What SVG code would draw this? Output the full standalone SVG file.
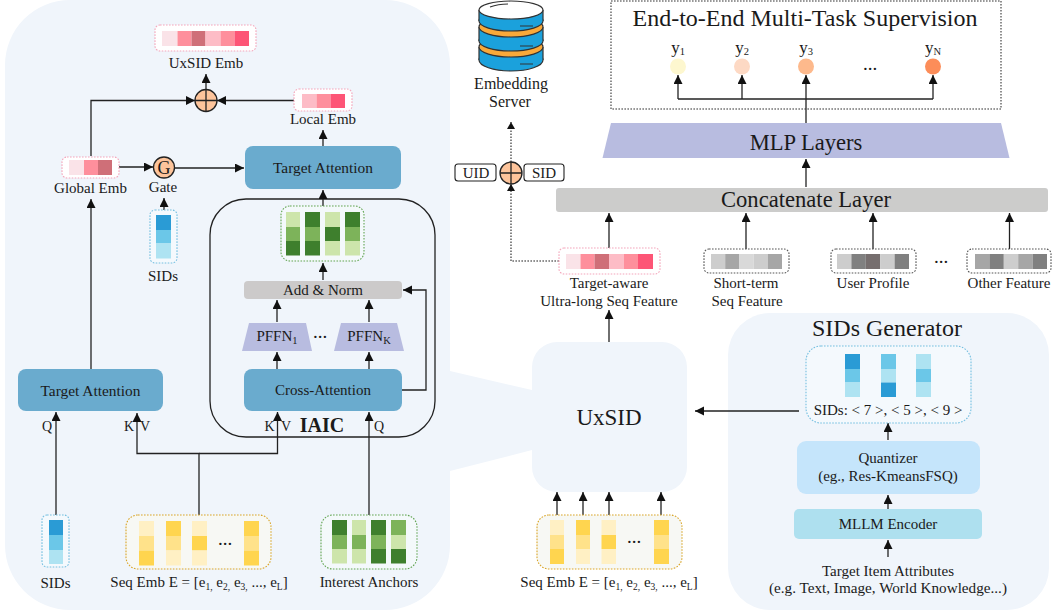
<svg xmlns="http://www.w3.org/2000/svg" width="1052" height="613" viewBox="0 0 1052 613">
<defs>
<marker id="ah" markerUnits="userSpaceOnUse" markerWidth="10" markerHeight="10" refX="9" refY="4.500" orient="auto"><path d="M0 0L9 4.500L0 9Z" fill="#111"/></marker>
</defs>
<style>
text{font-family:"Liberation Serif","Times New Roman",serif;fill:#1a1a1a;text-anchor:middle;font-size:15px}
.sub{font-size:10.500px}
.sm{font-size:9.500px}
.kv{font-size:14px}
.ta-t{font-size:15.400px}
.dots{font-size:19px}
.big{font-size:22.600px}
.ln{fill:none;stroke:#222;stroke-width:1.3}
.ar{fill:none;stroke:#222;stroke-width:1.3;marker-end:url(#ah)}
.dot{fill:none;stroke:#222;stroke-width:1.1;stroke-dasharray:1.6 1.4}
.dbox{stroke-width:1.1;stroke-dasharray:1.6 1.4;fill:#fff}
.pk{stroke:#f4a6bb}.bl{stroke:#74bfe0;fill:#f4f9fd}.gn{stroke:#62a552;fill:#f4f9fb}.gd{stroke:#d9a528;fill:#f7f8f4}.gy{stroke:#555;fill:#fff}
.panel{fill:#f0f5fb}
.ta{fill:#6aabce}
.trap{fill:#b8bce0}
.circ{fill:#fdc49b;stroke:#222;stroke-width:1.3}
.a{fill:#fae3e8}.b{fill:#fe8f9c}.c{fill:#cf6f78}.d{fill:#fdbcc6}.e{fill:#fd5576}
.s1{fill:#2a9bd5}.s2{fill:#6bc7e8}.s3{fill:#aee3f2}
.g1{fill:#3e7f2d}.g2{fill:#7db35a}.g3{fill:#cde5ab}
.y1{fill:#ffd54f}.y2{fill:#ffe28a}.y3{fill:#fff0c4}
.k1{fill:#cdcdcd}.k2{fill:#a6a6a6}.k3{fill:#d9d9d9}.k4{fill:#808080}.k5{fill:#766e6e}
</style>
<rect width="1052" height="613" fill="#fff"/>

<g id="panels">
<path class="panel" d="M70 0H385A65 65 0 0 1 450 65V371L532 390V367A25 25 0 0 1 557 342H662A25 25 0 0 1 687 367V467A25 25 0 0 1 662 492H557A25 25 0 0 1 532 467V450L450 471V545A65 65 0 0 1 385 610H70A65 65 0 0 1 5 545V65A65 65 0 0 1 70 0Z"/>
<rect class="panel" x="728" y="313" width="321" height="297" rx="42"/>
</g>

<g id="iaic-frame"><rect x="210" y="199" width="225" height="238" rx="36" fill="none" stroke="#222" stroke-width="1.3"/></g>

<g id="connectors">
<path class="ar" d="M206 90V74"/>
<path class="ar" d="M91 156V100.500H195"/>
<path class="ar" d="M294 100.500H217"/>
<path class="ar" d="M323 146V130"/>
<path class="ar" d="M119 167H153"/>
<path class="ar" d="M175 168H244"/>
<path class="ar" d="M164 211V198"/>
<path class="ar" d="M323 206V190"/>
<path class="ar" d="M323 280V263"/>
<path class="ar" d="M402 390H426V290H403"/>
<path class="ar" d="M277 322V300"/>
<path class="ar" d="M369 322V300"/>
<path class="ar" d="M277 369V352"/>
<path class="ar" d="M369 369V352"/>
<path class="ar" d="M91 369V199"/>
<path class="ar" d="M56 515V412"/>
<path class="ar" d="M199 515V453.500H137V413"/>
<path class="ar" d="M199 453.500H277.500V412"/>
<path class="ar" d="M369 515V412"/>
<path class="ar" d="M609 342V310"/>
<path class="ar" d="M557 515V492"/>
<path class="ar" d="M583 515V492"/>
<path class="ar" d="M609 515V492"/>
<path class="ar" d="M661 515V492"/>
<path class="ar" d="M799 411H695"/>
<path class="ar" d="M888 440V423"/>
<path class="ar" d="M888 509V495"/>
<path class="ar" d="M888 557V540"/>
<path class="ar" d="M609 249V213"/>
<path class="ar" d="M746 249V213"/>
<path class="ar" d="M873 249V213"/>
<path class="ar" d="M1009.500 249V213"/>
<path class="ar" d="M806 187V159"/>
<path class="ar" d="M806 123V75"/>
<path class="ar" d="M678 99V75"/>
<path class="ar" d="M742 99V75"/>
<path class="ar" d="M933 99V75"/>
<path class="ln" d="M678 99H933" stroke-width="1.6"/>
<path class="dot" d="M559 261H511V184"/>
<path d="M507 191L511 184L515 191Z" fill="#111"/>
<path class="dot" d="M511 162V122"/>
<path d="M507 129L511 122L515 129Z" fill="#111"/>
</g>

<g id="uxsid-emb">
<rect class="dbox pk" x="155" y="25" width="101" height="26" rx="5"/>
<rect class="a" x="162" y="31" width="15.500" height="15"/><rect class="b" x="177.500" y="31" width="14" height="15"/><rect class="c" x="191.500" y="31" width="14" height="15"/><rect class="d" x="205.500" y="31" width="15" height="15"/><rect class="b" x="220.500" y="31" width="14" height="15"/><rect class="e" x="234.500" y="31" width="14.500" height="15"/>
<text x="206" y="68">UxSID Emb</text>
</g>
<g id="plus-left"><circle class="circ" cx="206" cy="100.500" r="11"/><path class="ln" d="M195 100.500H217M206 89.500V111.500"/></g>
<g id="local-emb">
<rect class="dbox pk" x="294" y="89" width="58" height="22" rx="5"/>
<rect class="d" x="302" y="94" width="14.500" height="14"/><rect class="b" x="316.500" y="94" width="14" height="14"/><rect class="e" x="330.500" y="94" width="14.500" height="14"/>
<text x="323" y="124">Local Emb</text>
</g>
<g id="target-attn-top"><rect class="ta" x="245" y="146" width="156" height="43" rx="8"/><text class="ta-t" x="323" y="173">Target Attention</text></g>
<g id="global-emb">
<rect class="dbox pk" x="62" y="157" width="57" height="21" rx="5"/>
<rect class="a" x="69" y="160" width="15" height="15"/><rect class="b" x="84" y="160" width="14" height="15"/><rect class="c" x="98" y="160" width="14" height="15"/>
<text x="90.500" y="193">Global Emb</text>
</g>
<g id="gate"><circle class="circ" cx="164" cy="167.500" r="10.500"/><text x="164" y="174" style="font-size:18px">G</text><text x="163" y="192">Gate</text></g>
<g id="sids-gate">
<rect class="dbox bl" x="150" y="210" width="27" height="53" rx="5"/>
<rect class="s1" x="156" y="215" width="15" height="15"/><rect class="s2" x="156" y="230" width="15" height="13.500"/><rect class="s3" x="156" y="243.500" width="15" height="15"/>
<text x="163" y="281">SIDs</text>
</g>
<g id="green-output">
<rect class="dbox gn" x="281" y="206" width="83" height="55" rx="9"/>
<rect class="g3" x="286" y="212" width="14" height="15"/><rect class="g2" x="286" y="227" width="14" height="14"/><rect class="g1" x="286" y="241" width="14" height="14.500"/>
<rect class="g1" x="305" y="212" width="15" height="15"/><rect class="g2" x="305" y="227" width="15" height="14"/><rect class="g1" x="305" y="241" width="15" height="14.500"/>
<rect class="g3" x="325" y="212" width="15" height="15"/><rect class="g1" x="325" y="227" width="15" height="14"/><rect class="g3" x="325" y="241" width="15" height="14.500"/>
<rect class="g1" x="345" y="212" width="15" height="15"/><rect class="g2" x="345" y="227" width="15" height="14"/><rect class="g3" x="345" y="241" width="15" height="14.500"/>
</g>
<g id="add-norm"><rect x="244" y="281" width="158" height="18" rx="4" fill="#cccaca"/><text x="323" y="295">Add &amp; Norm</text></g>
<g id="pffn-1"><path class="trap" d="M249 323H306L312 351H242Z"/><text x="277" y="341">PFFN<tspan class="sub" dy="3">1</tspan></text></g>
<text class="dots" x="320" y="338">...</text>
<g id="pffn-k"><path class="trap" d="M341 323H397L404 351H334Z"/><text x="369" y="341">PFFN<tspan class="sub" dy="3">K</tspan></text></g>
<g id="cross-attn"><rect class="ta" x="244" y="369" width="158" height="42" rx="8"/><text x="323" y="395">Cross-Attention</text></g>
<g id="target-attn-left"><rect class="ta" x="18" y="369" width="145" height="42" rx="8"/><text class="ta-t" x="90.500" y="396">Target Attention</text></g>
<text x="322" y="432" style="font-size:20px;font-weight:bold">IAIC</text>
<text class="kv" x="47" y="431">Q</text><text class="kv" x="129" y="431">K</text><text class="kv" x="145" y="431">V</text>
<text class="kv" x="269.500" y="431">K</text><text class="kv" x="286" y="431">V</text><text class="kv" x="379" y="431">Q</text>

<g id="sids-left">
<rect class="dbox bl" x="42" y="515" width="27" height="52" rx="5"/>
<rect class="s1" x="49" y="520" width="14" height="15"/><rect class="s2" x="49" y="535" width="14" height="15"/><rect class="s3" x="49" y="550" width="14" height="14"/>
<text x="55.500" y="588">SIDs</text>
</g>
<g id="seq-left">
<rect class="dbox gd" x="126" y="515" width="145" height="54" rx="12"/>
<rect class="y3" x="139" y="521" width="15" height="15"/><rect class="y2" x="139" y="536" width="15" height="14.500"/><rect class="y1" x="139" y="550.500" width="15" height="15"/>
<rect class="y1" x="166" y="521" width="15" height="15"/><rect class="y2" x="166" y="536" width="15" height="14.500"/><rect class="y3" x="166" y="550.500" width="15" height="15"/>
<rect class="y3" x="192" y="521" width="15" height="15"/><rect class="y1" x="192" y="536" width="15" height="14.500"/><rect class="y3" x="192" y="550.500" width="15" height="15"/>
<rect class="y1" x="244" y="521" width="15" height="15"/><rect class="y2" x="244" y="536" width="15" height="14.500"/><rect class="y1" x="244" y="550.500" width="15" height="15"/>
<text class="dots" x="225" y="545">...</text>
<text x="199" y="587">Seq Emb E = [e<tspan class="sm" dy="3">1,</tspan><tspan dy="-3"> e</tspan><tspan class="sm" dy="3">2,</tspan><tspan dy="-3"> e</tspan><tspan class="sm" dy="3">3,</tspan><tspan dy="-3"> ..., e</tspan><tspan class="sm" dy="3">L</tspan><tspan dy="-3">]</tspan></text>
</g>
<g id="anchors">
<rect class="dbox gn" x="321" y="515" width="96" height="54" rx="12"/>
<rect class="g1" x="332" y="520" width="15" height="15"/><rect class="g2" x="332" y="535" width="15" height="14"/><rect class="g3" x="332" y="549" width="15" height="14.500"/>
<rect class="g3" x="352" y="520" width="14" height="15"/><rect class="g2" x="352" y="535" width="14" height="14"/><rect class="g3" x="352" y="549" width="14" height="14.500"/>
<rect class="g1" x="371" y="520" width="15" height="15"/><rect class="g2" x="371" y="535" width="15" height="14"/><rect class="g1" x="371" y="549" width="15" height="14.500"/>
<rect class="g2" x="391" y="520" width="15" height="15"/><rect class="g3" x="391" y="535" width="15" height="14"/><rect class="g1" x="391" y="549" width="15" height="14.500"/>
<text x="369" y="587">Interest Anchors</text>
</g>

<g id="server">
<ellipse cx="511" cy="60" rx="32" ry="11" fill="#1ba1dc" stroke="#333" stroke-width="1.2"/>
<rect x="479" y="47" width="64" height="13" fill="#1ba1dc"/>
<path d="M479 47V60M543 47V60" stroke="#333" stroke-width="1.2"/>
<ellipse cx="511" cy="47" rx="32" ry="10" fill="#f9a93a" stroke="#333" stroke-width="1.2"/>
<ellipse cx="511" cy="41" rx="32" ry="10" fill="#1ba1dc" stroke="#333" stroke-width="1.2"/>
<rect x="479" y="27" width="64" height="14" fill="#1ba1dc"/>
<path d="M479 27V41M543 27V41" stroke="#333" stroke-width="1.2"/>
<ellipse cx="511" cy="27" rx="32" ry="10" fill="#f9a93a" stroke="#333" stroke-width="1.2"/>
<ellipse cx="511" cy="21" rx="32" ry="10" fill="#1ba1dc" stroke="#333" stroke-width="1.2"/>
<rect x="479" y="10" width="64" height="11" fill="#1ba1dc"/>
<path d="M479 10V21M543 10V21" stroke="#333" stroke-width="1.2"/>
<ellipse cx="511" cy="10" rx="32" ry="9" fill="#fff" stroke="#333" stroke-width="1.2"/>
<path d="M490 7Q498 4 508 4M520 26H533M520 46H533M520 64H533" stroke="#333" stroke-width="1.2" fill="none"/>
<text x="511" y="89" style="font-size:16px">Embedding</text>
<text x="510" y="107" style="font-size:16px">Server</text>
</g>
<g id="uid"><rect x="455" y="164" width="41" height="17" rx="3" fill="#fff" stroke="#222" stroke-width="1.1"/><text x="476" y="177.500">UID</text></g>
<g id="plus-right"><circle class="circ" cx="511" cy="173" r="11"/><path class="ln" d="M500 173H522M511 162V184"/></g>
<g id="sid"><rect x="524" y="164" width="40" height="17" rx="3" fill="#fff" stroke="#222" stroke-width="1.1"/><text x="544" y="177.500">SID</text></g>

<g id="supervision">
<rect x="611" y="1" width="390" height="108" fill="none" stroke="#333" stroke-width="1.1" stroke-dasharray="1.6 1.4"/>
<text x="805" y="26" style="font-size:24px">End-to-End Multi-Task Supervision</text>
<text x="678" y="53" style="font-size:17px">y<tspan class="sub" dy="2">1</tspan></text>
<text x="742" y="53" style="font-size:17px">y<tspan class="sub" dy="2">2</tspan></text>
<text x="806" y="53" style="font-size:17px">y<tspan class="sub" dy="2">3</tspan></text>
<text x="933" y="53" style="font-size:17px">y<tspan class="sub" dy="2">N</tspan></text>
<circle cx="678" cy="66.500" r="8" fill="#fdf7cf"/><circle cx="742" cy="66.500" r="8" fill="#fdd9c4"/><circle cx="806" cy="66.500" r="8" fill="#fdb98c"/><circle cx="933" cy="66.500" r="8" fill="#fc8d59"/>
<text class="dots" x="870" y="70">...</text>
</g>
<g id="mlp"><path class="trap" d="M611 123H1001L1009.500 158H602.500Z"/><text class="big" x="806" y="150">MLP Layers</text></g>
<g id="concat"><rect x="556" y="188" width="492" height="24" rx="3" fill="#cccccb"/><text class="big" x="806" y="207">Concatenate Layer</text></g>

<g id="feat-target">
<rect class="dbox pk" x="559" y="248" width="101" height="26" rx="5"/>
<rect class="a" x="566" y="254" width="14.500" height="15"/><rect class="b" x="580.500" y="254" width="14" height="15"/><rect class="c" x="594.500" y="254" width="14.500" height="15"/><rect class="d" x="609" y="254" width="15" height="15"/><rect class="b" x="624" y="254" width="14" height="15"/><rect class="e" x="638" y="254" width="15" height="15"/>
<text x="609" y="288">Target-aware</text><text x="609" y="306">Ultra-long Seq Feature</text>
</g>
<g id="feat-short">
<rect class="dbox gy" x="704" y="249" width="85" height="24" rx="5"/>
<rect class="k1" x="711" y="254" width="14.200" height="15"/><rect class="k2" x="725.200" y="254" width="14.200" height="15"/><rect class="k3" x="739.400" y="254" width="14.200" height="15"/><rect class="k1" x="753.600" y="254" width="14.200" height="15"/><rect class="k2" x="767.800" y="254" width="14.200" height="15"/>
<text x="746" y="288">Short-term</text><text x="747" y="306">Seq Feature</text>
</g>
<g id="feat-user">
<rect class="dbox gy" x="831" y="249" width="85" height="24" rx="5"/>
<rect class="k1" x="837" y="254" width="14.400" height="15"/><rect class="k4" x="851.400" y="254" width="14.400" height="15"/><rect class="k5" x="865.800" y="254" width="14.400" height="15"/><rect class="k1" x="880.200" y="254" width="14.400" height="15"/><rect class="k4" x="894.600" y="254" width="14.400" height="15"/>
<text x="873" y="288">User Profile</text>
</g>
<text class="dots" x="941" y="263">...</text>
<g id="feat-other">
<rect class="dbox gy" x="967" y="249" width="84" height="24" rx="5"/>
<rect class="k2" x="975" y="254" width="14.400" height="15"/><rect class="k4" x="989.400" y="254" width="14.400" height="15"/><rect class="k1" x="1003.800" y="254" width="14.400" height="15"/><rect class="k2" x="1018.200" y="254" width="14.400" height="15"/><rect class="k4" x="1032.600" y="254" width="14.400" height="15"/>
<text x="1009" y="288">Other Feature</text>
</g>

<g id="uxsid"><text x="609" y="425" style="font-size:23px">UxSID</text></g>
<g id="seq-right">
<rect class="dbox gd" x="537" y="515" width="145" height="54" rx="12"/>
<rect class="y3" x="550" y="520" width="14" height="15"/><rect class="y2" x="550" y="535" width="14" height="14"/><rect class="y1" x="550" y="549" width="14" height="15"/>
<rect class="y1" x="576" y="520" width="14" height="15"/><rect class="y2" x="576" y="535" width="14" height="14"/><rect class="y3" x="576" y="549" width="14" height="15"/>
<rect class="y3" x="601.500" y="520" width="14.500" height="15"/><rect class="y1" x="601.500" y="535" width="14.500" height="14"/><rect class="y3" x="601.500" y="549" width="14.500" height="15"/>
<rect class="y1" x="654" y="520" width="15" height="15"/><rect class="y2" x="654" y="535" width="15" height="14"/><rect class="y1" x="654" y="549" width="15" height="15"/>
<text class="dots" x="634" y="543">...</text>
<text x="609" y="587">Seq Emb E = [e<tspan class="sm" dy="3">1,</tspan><tspan dy="-3"> e</tspan><tspan class="sm" dy="3">2,</tspan><tspan dy="-3"> e</tspan><tspan class="sm" dy="3">3,</tspan><tspan dy="-3"> ..., e</tspan><tspan class="sm" dy="3">L</tspan><tspan dy="-3">]</tspan></text>
</g>

<g id="sids-generator">
<text x="887" y="336" style="font-size:24px">SIDs Generator</text>
<rect class="dbox bl" x="806" y="346" width="165" height="77" rx="15"/>
<rect class="s1" x="845" y="354" width="15" height="15"/><rect class="s2" x="845" y="369" width="15" height="13.500"/><rect class="s3" x="845" y="382.500" width="15" height="14.500"/>
<rect class="s2" x="881" y="354" width="15" height="15"/><rect class="s3" x="881" y="369" width="15" height="13.500"/><rect class="s1" x="881" y="382.500" width="15" height="14.500"/>
<rect class="s3" x="916" y="354" width="15" height="15"/><rect class="s2" x="916" y="369" width="15" height="13.500"/><rect class="s3" x="916" y="382.500" width="15" height="14.500"/>
<text x="888" y="415">SIDs: &lt; 7 &gt;, &lt; 5 &gt;, &lt; 9 &gt;</text>
</g>
<g id="quantizer"><rect x="797" y="441" width="183" height="53" rx="9" fill="#c5e5fb"/><text x="888" y="463">Quantizer</text><text x="888" y="481">(eg., Res-KmeansFSQ)</text></g>
<g id="encoder"><rect x="794" y="509" width="188" height="30" rx="5" fill="#aee0ef"/><text x="888" y="529">MLLM Encoder</text></g>
<g id="attributes"><text x="888" y="576">Target Item Attributes</text><text x="888" y="593" style="font-size:15.200px">(e.g. Text, Image, World Knowledge...)</text></g>
</svg>
